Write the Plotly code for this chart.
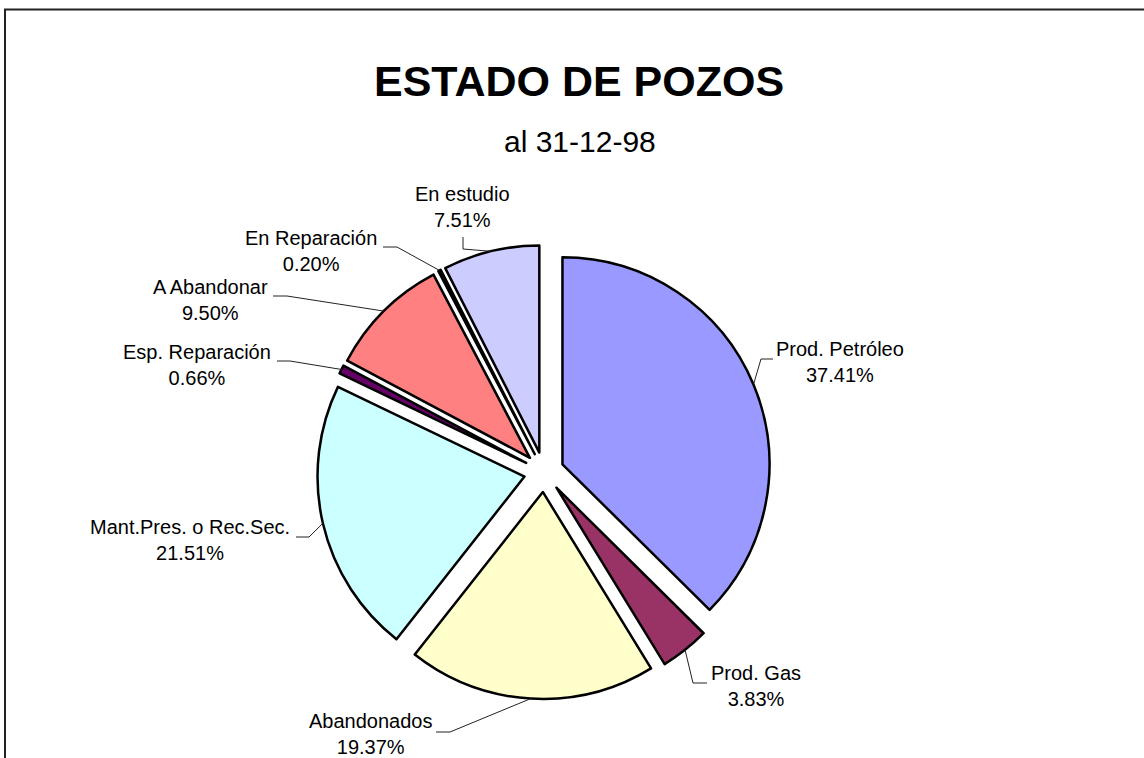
import math
import plotly.graph_objects as go

# ---- data ----
categories = ["Prod. Petróleo", "Prod. Gas", "Abandonados", "Mant.Pres. o Rec.Sec.",
              "Esp. Reparación", "A Abandonar", "En Reparación", "En estudio"]
percent_values = [37.41, 3.83, 19.37, 21.51, 0.66, 9.50, 0.20, 7.51]
colors = ["#9999FF", "#993366", "#FFFFCC", "#CCFFFF", "#660066", "#FF8080", "#0066CC", "#CCCCFF"]

# ---- layout (pixels) ----
W, H = 1144, 758
PULL = 0.0966
DOM_X = [317 / W, 771 / W]
DOM_Y = [59 / H, 513 / H]

# label centres and leader attach/elbow points (layout positions, pixels)
label_pos = [(840, 362), (756, 686), (370, 734), (190, 540),
             (197, 365), (210, 300), (311, 251), (462, 207)]
leader_attach = [(773, 359), (707, 683), (436, 732), (296, 537),
                 (277, 361), (273, 296), (383, 247), (463, 237)]
leader_elbow = [(761, 359), (693, 683), (450, 732), (309, 537),
                (290, 361), (287, 296), (397, 247), (463, 249)]

FONT = "Liberation Sans, Arial, sans-serif"


def px(x, y):
    return x / W, 1 - y / H


fig = go.Figure(go.Pie(
    labels=categories,
    values=percent_values,
    sort=False,
    direction="clockwise",
    rotation=0,
    pull=[PULL] * len(percent_values),
    marker=dict(colors=colors, line=dict(color="black", width=2.5)),
    textinfo="none",
    hoverinfo="label+percent",
    domain=dict(x=DOM_X, y=DOM_Y),
    showlegend=False,
))

# geometry replicating plotly's pie scaling
w_dom = (DOM_X[1] - DOM_X[0]) * W
h_dom = (DOM_Y[1] - DOM_Y[0]) * H
r = min(w_dom, h_dom) / 2 / (1 + PULL)
cx = (DOM_X[0] + DOM_X[1]) / 2 * W
cy = H * (1 - DOM_Y[0]) - h_dom / 2

total = sum(percent_values)
annotations = []
shapes = []
cum = 0.0
for i, v in enumerate(percent_values):
    mid = (cum + v / 2) / total * 2 * math.pi
    cum += v
    sx = cx + r * PULL * math.sin(mid)
    sy = cy - r * PULL * math.cos(mid)
    ax = sx + r * math.sin(mid)
    ay = sy - r * math.cos(mid)
    (x1, y1), (x2, y2) = leader_attach[i], leader_elbow[i]
    p = [px(x1, y1), px(x2, y2), px(ax, ay)]
    path = "M {} {} L {} {} L {} {}".format(p[0][0], p[0][1], p[1][0], p[1][1], p[2][0], p[2][1])
    shapes.append(dict(type="path", xref="paper", yref="paper", path=path,
                       line=dict(color="#222222", width=1)))
    lx, ly = px(*label_pos[i])
    annotations.append(dict(
        x=lx, y=ly, xref="paper", yref="paper", showarrow=False,
        xanchor="center", yanchor="middle", align="center",
        text="{}<br>{:.2f}%".format(categories[i], v),
        font=dict(family=FONT, size=20, color="black"),
    ))

# titles
tx, ty = px(579, 81)
annotations.append(dict(x=tx, y=ty, xref="paper", yref="paper", showarrow=False,
                        xanchor="center", yanchor="middle",
                        text="<b>ESTADO DE POZOS</b>",
                        font=dict(family=FONT, size=43, color="black")))
sx_, sy_ = px(580, 142)
annotations.append(dict(x=sx_, y=sy_, xref="paper", yref="paper", showarrow=False,
                        xanchor="center", yanchor="middle",
                        text="al 31-12-98",
                        font=dict(family=FONT, size=30, color="black")))

# chart border
bx0, by0 = px(5, 9.5)
shapes.append(dict(type="rect", xref="paper", yref="paper",
                   x0=bx0, y0=-0.05, x1=1.05, y1=by0,
                   line=dict(color="#222222", width=2)))

fig.update_layout(
    width=W, height=H,
    margin=dict(l=0, r=0, t=0, b=0),
    paper_bgcolor="white", plot_bgcolor="white",
    annotations=annotations, shapes=shapes,
)

fig.write_html(
    "out.html",
    config={"displayModeBar": False},
    post_script="document.body.style.margin='0';document.body.style.overflow='hidden';",
)
